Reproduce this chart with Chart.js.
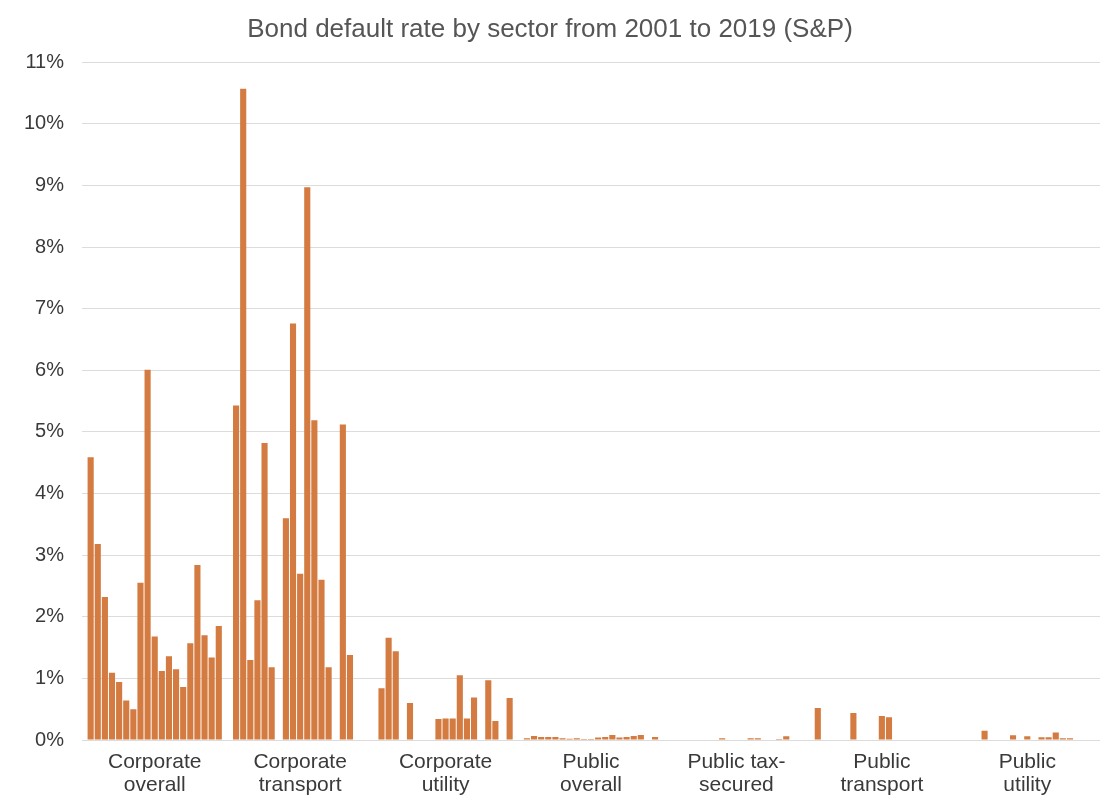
<!DOCTYPE html>
<html>
<head>
<meta charset="utf-8">
<title>Bond default rate by sector</title>
<script src="https://cdn.jsdelivr.net/npm/chart.js@4/dist/chart.umd.min.js"></script>
<style>
  html, body { margin: 0; padding: 0; background: #fff; }
  #wrap { width: 1102px; height: 803px; }
</style>
</head>
<body>
<div id="wrap"><canvas id="defaultChart"></canvas></div>
<script>
// sectors along the x axis (two-line labels)
const sectors = [
    ['Corporate', 'overall'],
    ['Corporate', 'transport'],
    ['Corporate', 'utility'],
    ['Public', 'overall'],
    ['Public tax-', 'secured'],
    ['Public', 'transport'],
    ['Public', 'utility']
];

const years = [2001, 2002, 2003, 2004, 2005, 2006, 2007, 2008, 2009, 2010,
               2011, 2012, 2013, 2014, 2015, 2016, 2017, 2018, 2019];

// default rate in %, one value per year 2001..2019
const corporateOverall   = [4.59, 3.18, 2.32, 1.09, 0.94, 0.64, 0.50, 2.55, 6.01, 1.68, 1.12, 1.36, 1.15, 0.86, 1.57, 2.84, 1.70, 1.34, 1.85];
const corporateTransport = [5.43, 10.57, 1.30, 2.27, 4.82, 1.18, 0, 3.60, 6.76, 2.70, 8.97, 5.19, 2.60, 1.18, 0, 5.12, 1.38, 0, 0];
const corporateUtility   = [0.84, 1.66, 1.44, 0, 0.60, 0, 0, 0, 0.34, 0.35, 0.35, 1.05, 0.35, 0.69, 0, 0.97, 0.31, 0, 0.68];
const publicOverall      = [0.03, 0.065, 0.05, 0.05, 0.05, 0.03, 0.02, 0.03, 0.015, 0.015, 0.04, 0.05, 0.08, 0.04, 0.05, 0.065, 0.08, 0, 0.05];
const publicTaxSecured   = [0, 0, 0, 0, 0, 0, 0, 0.03, 0, 0, 0, 0.03, 0.03, 0, 0, 0.015, 0.06, 0, 0];
const publicTransport    = [0.52, 0, 0, 0, 0, 0.44, 0, 0, 0, 0.39, 0.37, 0, 0, 0, 0, 0, 0, 0, 0];
const publicUtility      = [0, 0, 0, 0.15, 0, 0, 0, 0.076, 0, 0.06, 0, 0.043, 0.043, 0.12, 0.03, 0.03, 0, 0, 0];

const yTicks = [0, 1, 2, 3, 4, 5, 6, 7, 8, 9, 10, 11];

const sectorSeries = [corporateOverall, corporateTransport, corporateUtility,
                      publicOverall, publicTaxSecured, publicTransport, publicUtility];

const barColor = '#d37b40';
const fontFamily = '"Liberation Sans", Arial, Helvetica, sans-serif';

// one dataset per year, grouped under each sector
const datasets = years.map((year, i) => ({
    label: String(year),
    data: sectorSeries.map(s => s[i]),
    backgroundColor: barColor,
    borderWidth: 0,
    barPercentage: 0.86,
    categoryPercentage: 0.93
}));

const ctx = document.getElementById('defaultChart').getContext('2d');

const chart = new Chart(ctx, {
    type: 'bar',
    data: {
        labels: sectors,
        datasets: datasets
    },
    options: {
        responsive: true,
        maintainAspectRatio: false,
        animation: false,
        layout: {
            padding: { top: 0, right: 2, bottom: 0, left: 0 }
        },
        plugins: {
            legend: { display: false },
            tooltip: { enabled: false },
            title: {
                display: true,
                text: 'Bond default rate by sector from 2001 to 2019 (S&P)',
                color: '#555555',
                font: { family: fontFamily, size: 26, weight: 'normal' },
                padding: { top: 14, bottom: 17 }
            }
        },
        scales: {
            x: {
                grid: { display: false, drawTicks: false },
                border: { display: false },
                ticks: {
                    color: '#3a3a3a',
                    padding: 10,
                    font: { family: fontFamily, size: 21, lineHeight: 1.12 },
                    maxRotation: 0,
                    autoSkip: false
                },
                afterFit: (scale) => { scale.height = 63; }
            },
            y: {
                min: 0,
                max: 11,
                afterBuildTicks: (scale) => {
                    scale.ticks = yTicks.map(v => ({ value: v }));
                },
                grid: { color: '#dcdcdc', lineWidth: 1, drawTicks: false },
                border: { display: false },
                ticks: {
                    color: '#3a3a3a',
                    padding: 18,
                    font: { family: fontFamily, size: 20 },
                    callback: (v) => v + '%'
                },
                afterFit: (scale) => { scale.width = 82; }
            }
        }
    }
});
</script>
</body>
</html>
